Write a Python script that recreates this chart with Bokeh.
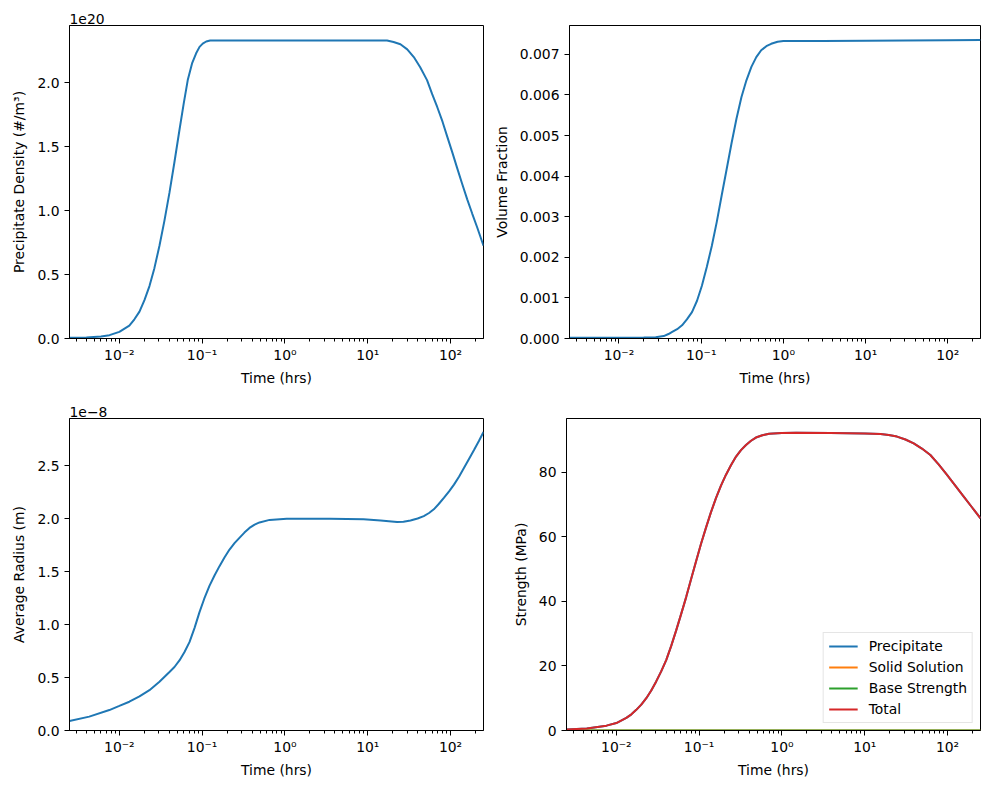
from bokeh.plotting import figure
from bokeh.layouts import column, row
from bokeh.models import Range1d, FixedTicker, NumeralTickFormatter, CustomJSTickFormatter
from bokeh.embed import file_html
from bokeh.resources import INLINE

# ---------------- data ----------------
# precipitate density, in units of 1e20 #/m^3
density_times = [0.0025, 0.004, 0.006, 0.0076, 0.01, 0.0132, 0.0152, 0.0175, 0.0201, 0.0231,
                 0.0265, 0.0305, 0.035, 0.0403, 0.0463, 0.0532, 0.06, 0.067, 0.0755, 0.0846,
                 0.093, 0.1016, 0.112, 0.125, 0.2, 0.5, 1.0, 5.0, 17.1, 20.5,
                 24.8, 30.0, 36.0, 43.0, 52.0, 60.0, 69.0, 80.0, 91.0, 105.0,
                 120.0, 138.0, 159.0, 183.0, 210.0, 250.0]
density_e20 = [0.005, 0.008, 0.015, 0.026, 0.052, 0.10, 0.15, 0.21, 0.30, 0.41,
               0.55, 0.725, 0.92, 1.14, 1.38, 1.63, 1.84, 2.02, 2.15, 2.23,
               2.28, 2.305, 2.322, 2.33, 2.33, 2.33, 2.33, 2.33, 2.33, 2.318,
               2.30, 2.26, 2.20, 2.12, 2.02, 1.91, 1.81, 1.695, 1.58, 1.455,
               1.334, 1.21, 1.088, 0.975, 0.868, 0.725]

volume_times = [0.0025, 0.01, 0.02, 0.028, 0.035, 0.04, 0.0444, 0.051, 0.0585, 0.067,
                0.0773, 0.089, 0.102, 0.117, 0.1346, 0.155, 0.177, 0.204, 0.234, 0.269,
                0.309, 0.355, 0.408, 0.468, 0.537, 0.62, 0.71, 0.85, 1.0, 3.0,
                10.0, 30.0, 100.0, 250.0]
volume_fraction = [0.00002, 0.00002, 0.000022, 0.00003, 0.00006, 0.00011, 0.000163, 0.00023, 0.000326, 0.00047,
                   0.00065, 0.00093, 0.0013, 0.00176, 0.00228, 0.00288, 0.00351, 0.00417, 0.00481, 0.00542,
                   0.00595, 0.00636, 0.00669, 0.00693, 0.0071, 0.0072, 0.00726, 0.00731, 0.00733, 0.00733,
                   0.007335, 0.00734, 0.007345, 0.00735]

# average radius, in units of 1e-8 m
radius_times = [0.0025, 0.00433, 0.00757, 0.01, 0.0132, 0.0175, 0.0231, 0.0305, 0.0403, 0.0463,
                0.0532, 0.061, 0.0703, 0.081, 0.0927, 0.106, 0.1225, 0.141, 0.162, 0.186,
                0.214, 0.246, 0.282, 0.324, 0.373, 0.43, 0.493, 0.652, 1.05, 3.5,
                8.9, 14.3, 22.6, 27.0, 32.8, 40.0, 47.5, 55.0, 62.8, 72.0,
                83.0, 96.0, 110.0, 127.0, 145.0, 167.0, 192.0, 220.0, 250.0]
radius_e8 = [0.09, 0.131, 0.193, 0.232, 0.272, 0.322, 0.381, 0.46, 0.553, 0.60,
             0.662, 0.74, 0.835, 0.97, 1.116, 1.245, 1.366, 1.465, 1.553, 1.635,
             1.71, 1.77, 1.82, 1.87, 1.914, 1.945, 1.966, 1.99, 2.0, 2.0,
             1.995, 1.985, 1.97, 1.972, 1.985, 2.003, 2.026, 2.055, 2.09, 2.14,
             2.198, 2.26, 2.323, 2.40, 2.48, 2.565, 2.65, 2.735, 2.82]

strength_times = [0.0025, 0.0044, 0.0076, 0.01, 0.0132, 0.0152, 0.0174, 0.02, 0.023, 0.0264,
                  0.0303, 0.0348, 0.04, 0.046, 0.0528, 0.0607, 0.0697, 0.08, 0.092, 0.1054,
                  0.121, 0.139, 0.16, 0.184, 0.211, 0.243, 0.279, 0.32, 0.368, 0.423,
                  0.485, 0.58, 0.70, 1.0, 1.48, 3.86, 10.0, 15.5, 19.5, 24.5,
                  31.0, 39.0, 49.0, 62.0, 78.0, 98.0, 124.0, 156.0, 196.0, 250.0]
precipitate_strength = [0.3, 0.6, 1.5, 2.3, 3.9, 5.0, 6.4, 8.0, 10.0, 12.4,
                        15.2, 18.3, 21.8, 26.2, 31.0, 36.1, 41.3, 46.9, 52.5, 57.8,
                        62.8, 67.6, 72.0, 75.9, 79.2, 82.2, 84.8, 86.8, 88.4, 89.7,
                        90.7, 91.4, 91.9, 92.1, 92.2, 92.1, 91.95, 91.8, 91.5, 91.0,
                        90.1, 88.9, 87.3, 85.3, 82.4, 79.2, 75.8, 72.5, 69.2, 65.7]
solid_solution_strength = [0.0, 0.0, 0.0, 0.0, 0.0, 0.0, 0.0, 0.0, 0.0, 0.0,
                           0.0, 0.0, 0.0, 0.0, 0.0, 0.0, 0.0, 0.0, 0.0, 0.0,
                           0.0, 0.0, 0.0, 0.0, 0.0, 0.0, 0.0, 0.0, 0.0, 0.0,
                           0.0, 0.0, 0.0, 0.0, 0.0, 0.0, 0.0, 0.0, 0.0, 0.0,
                           0.0, 0.0, 0.0, 0.0, 0.0, 0.0, 0.0, 0.0, 0.0, 0.0]
base_strength = [0.0, 0.0, 0.0, 0.0, 0.0, 0.0, 0.0, 0.0, 0.0, 0.0,
                 0.0, 0.0, 0.0, 0.0, 0.0, 0.0, 0.0, 0.0, 0.0, 0.0,
                 0.0, 0.0, 0.0, 0.0, 0.0, 0.0, 0.0, 0.0, 0.0, 0.0,
                 0.0, 0.0, 0.0, 0.0, 0.0, 0.0, 0.0, 0.0, 0.0, 0.0,
                 0.0, 0.0, 0.0, 0.0, 0.0, 0.0, 0.0, 0.0, 0.0, 0.0]
total_strength = [0.3, 0.6, 1.5, 2.3, 3.9, 5.0, 6.4, 8.0, 10.0, 12.4,
                  15.2, 18.3, 21.8, 26.2, 31.0, 36.1, 41.3, 46.9, 52.5, 57.8,
                  62.8, 67.6, 72.0, 75.9, 79.2, 82.2, 84.8, 86.8, 88.4, 89.7,
                  90.7, 91.4, 91.9, 92.1, 92.2, 92.1, 91.95, 91.8, 91.5, 91.0,
                  90.1, 88.9, 87.3, 85.3, 82.4, 79.2, 75.8, 72.5, 69.2, 65.7]

x_major = [0.01, 0.1, 1.0, 10.0, 100.0]
x_label = "Time (hrs)"

# ---------------- styling ----------------
FONT = "DejaVu Sans"
FS = "13.9px"
BLUE, ORANGE, GREEN, RED = "#1f77b4", "#ff7f0e", "#2ca02c", "#d62728"
X_MIN, X_MAX = 0.0025, 250.0
minor = [m * 10.0 ** e for e in range(-3, 3) for m in range(2, 10)]
minor = [v for v in minor if X_MIN <= v <= X_MAX]

sup_js = """
const sup = {"-": "\u207b", "0": "\u2070", "1": "\u00b9", "2": "\u00b2", "3": "\u00b3",
             "4": "\u2074", "5": "\u2075", "6": "\u2076", "7": "\u2077", "8": "\u2078", "9": "\u2079"};
const e = Math.round(Math.log10(tick));
return "10" + String(e).split("").map(c => sup[c]).join("");
"""


def make_fig(w, h, lb, rb, tb, bb, ymax, yticks, yfmt, ylabel, offset=""):
    p = figure(width=w, height=h, x_axis_type="log",
               x_range=Range1d(X_MIN, X_MAX), y_range=Range1d(0, ymax),
               output_backend="svg", toolbar_location=None,
               min_border_left=lb, min_border_right=rb,
               min_border_top=tb, min_border_bottom=bb)
    p.grid.visible = False
    p.outline_line_color = "black"
    p.outline_line_width = 1
    p.outline_line_alpha = 1.0
    p.background_fill_color = "white"
    p.border_fill_color = "white"
    # offset ("1e20") text shown as a left-aligned title just above the frame
    p.title.text = offset
    p.title.align = "left"
    p.title.offset = 0
    p.title.standoff = 3
    p.title.text_font = FONT
    p.title.text_font_size = FS
    p.title.text_font_style = "normal"
    p.title.text_color = "black"
    for ax in (p.xaxis[0], p.yaxis[0]):
        ax.axis_line_color = "black"
        ax.major_tick_line_color = "black"
        ax.minor_tick_line_color = "black"
        ax.major_tick_out = 5
        ax.major_tick_in = 0
        ax.minor_tick_out = 3
        ax.minor_tick_in = 0
        ax.major_label_text_font = FONT
        ax.major_label_text_font_size = FS
        ax.major_label_text_color = "black"
        ax.axis_label_text_font = FONT
        ax.axis_label_text_font_size = FS
        ax.axis_label_text_font_style = "normal"
        ax.axis_label_text_color = "black"
    xa = p.xaxis[0]
    xa.ticker = FixedTicker(ticks=x_major, minor_ticks=minor)
    xa.formatter = CustomJSTickFormatter(code=sup_js)
    xa.major_label_standoff = 3
    xa.axis_label_standoff = 4
    xa.axis_label = x_label
    ya = p.yaxis[0]
    ya.ticker = FixedTicker(ticks=yticks)
    ya.formatter = NumeralTickFormatter(format=yfmt)
    ya.minor_tick_line_color = None
    ya.major_label_standoff = 5
    ya.axis_label_standoff = 7
    ya.axis_label = ylabel
    return p


# top-left: precipitate density
p1 = make_fig(490, 388, 69, 7, 25, 48, 2.447, [0, 0.5, 1.0, 1.5, 2.0], "0.0",
              "Precipitate Density (#/m\u00b3)", "1e20")
p1.line(density_times, density_e20, line_color=BLUE, line_width=2)

# top-right: volume fraction
p2 = make_fig(498, 388, 76, 8, 25, 48, 0.00771,
              [0, 0.001, 0.002, 0.003, 0.004, 0.005, 0.006, 0.007], "0.000",
              "Volume Fraction")
p2.line(volume_times, volume_fraction, line_color=BLUE, line_width=2)

# bottom-left: average radius
p3 = make_fig(490, 392, 69, 7, 30, 48, 2.948, [0, 0.5, 1.0, 1.5, 2.0, 2.5], "0.0",
              "Average Radius (m)", "1e\u22128")
p3.line(radius_times, radius_e8, line_color=BLUE, line_width=2)

# bottom-right: strength
p4 = make_fig(498, 392, 76, 8, 30, 48, 96.6, [0, 20, 40, 60, 80], "0",
              "Strength (MPa)")
p4.line(strength_times, precipitate_strength, line_color=BLUE, line_width=2, legend_label="Precipitate")
p4.line(strength_times, solid_solution_strength, line_color=ORANGE, line_width=2, legend_label="Solid Solution")
p4.line(strength_times, base_strength, line_color=GREEN, line_width=2, legend_label="Base Strength")
p4.line(strength_times, total_strength, line_color=RED, line_width=2, legend_label="Total")
lg = p4.legend[0]
lg.location = "bottom_right"
lg.margin = 7
lg.padding = 5
lg.spacing = 5
lg.label_height = 16
lg.glyph_height = 16
lg.glyph_width = 29
lg.label_standoff = 11
lg.label_text_font = FONT
lg.label_text_font_size = FS
lg.label_text_color = "black"
lg.border_line_color = "#cccccc"
lg.border_line_width = 1
lg.background_fill_color = "white"
lg.background_fill_alpha = 0.8

layout = column(row(p1, p2), row(p3, p4))

with open("out.html", "w", encoding="utf-8") as f:
    f.write(file_html(layout, INLINE))
